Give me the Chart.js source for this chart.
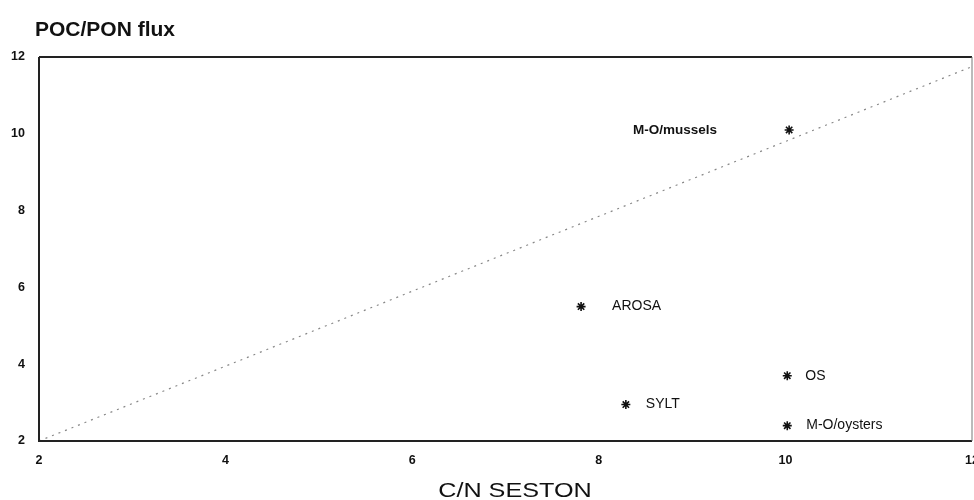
<!DOCTYPE html>
<html>
<head>
<meta charset="utf-8">
<script src="https://cdn.jsdelivr.net/npm/chart.js@4"></script>
<style>
  html, body { margin: 0; padding: 0; background: #fff; }
  #wrap { width: 974px; height: 500px; }
</style>
</head>
<body>
<div id="wrap"><canvas id="chart" width="974" height="500"></canvas></div>
<script>
// sites and their values
const sites = ['M-O/mussels', 'AROSA', 'OS', 'SYLT', 'M-O/oysters'];
const cnSeston = [10.04, 7.81, 10.02, 8.29, 10.02];
const pocPonFlux = [10.1, 5.5, 3.7, 2.95, 2.4];

// 1:1-ish reference line
const refLineX = [2, 12];
const refLineY = [2, 11.75];

const xTicks = [2, 4, 6, 8, 10, 12];
const yTicks = [2, 4, 6, 8, 10, 12];

const FONT = "'Liberation Sans', Arial, sans-serif";

// label placement per site: which side of the star, and bold or not
const labelStyle = {
    'M-O/mussels': { side: 'left', gap: 72, bold: true, size: 13.5 },
    'AROSA': { side: 'right', gap: 31, bold: false, size: 14 },
    'OS': { side: 'right', gap: 18, bold: false, size: 14 },
    'SYLT': { side: 'right', gap: 20, bold: false, size: 14 },
    'M-O/oysters': { side: 'right', gap: 19, bold: false, size: 14 }
};

const textPlugin = {
    id: 'textPlugin',
    afterDraw(chart) {
        const { ctx, chartArea, scales } = chart;
        ctx.save();

        // frame
        ctx.strokeStyle = '#222';
        ctx.lineWidth = 2;
        ctx.beginPath();
        ctx.moveTo(chartArea.left, chartArea.top);
        ctx.lineTo(chartArea.right, chartArea.top);
        ctx.stroke();
        ctx.beginPath();
        ctx.moveTo(chartArea.left, chartArea.top);
        ctx.lineTo(chartArea.left, chartArea.bottom);
        ctx.lineTo(chartArea.right, chartArea.bottom);
        ctx.stroke();
        ctx.strokeStyle = '#777';
        ctx.lineWidth = 1;
        ctx.beginPath();
        ctx.moveTo(chartArea.right, chartArea.top);
        ctx.lineTo(chartArea.right, chartArea.bottom);
        ctx.stroke();

        // titles
        ctx.fillStyle = '#111';
        ctx.textBaseline = 'alphabetic';
        ctx.textAlign = 'left';
        ctx.font = `bold 21px ${FONT}`;
        ctx.fillText('POC/PON flux', 35, 36);

        ctx.textAlign = 'center';
        ctx.font = `21px ${FONT}`;
        ctx.save();
        ctx.translate(515, 497);
        ctx.scale(1.2, 1);
        ctx.fillText('C/N SESTON', 0, 0);
        ctx.restore();

        // site labels
        ctx.textBaseline = 'middle';
        sites.forEach((name, i) => {
            const st = labelStyle[name];
            const px = scales.x.getPixelForValue(cnSeston[i]);
            const py = scales.y.getPixelForValue(pocPonFlux[i]);
            ctx.font = `${st.bold ? 'bold ' : ''}${st.size}px ${FONT}`;
            if (st.side === 'left') {
                ctx.textAlign = 'right';
                ctx.fillText(name, px - st.gap, py);
            } else {
                ctx.textAlign = 'left';
                ctx.fillText(name, px + st.gap, py);
            }
        });
        ctx.restore();
    }
};

new Chart(document.getElementById('chart').getContext('2d'), {
    type: 'scatter',
    data: {
        datasets: [
            {
                label: 'reference',
                type: 'line',
                data: refLineX.map((x, i) => ({ x: x, y: refLineY[i] })),
                borderColor: '#888',
                borderWidth: 1.2,
                borderDash: [2, 5],
                pointRadius: 0,
                fill: false
            },
            {
                label: 'sites',
                data: sites.map((s, i) => ({ x: cnSeston[i], y: pocPonFlux[i] })),
                pointStyle: 'star',
                pointRadius: 4.5,
                borderColor: '#111',
                backgroundColor: '#111',
                borderWidth: 1.6
            }
        ]
    },
    options: {
        responsive: false,
        animation: false,
        layout: { autoPadding: false, padding: { top: 57, right: 2, left: 0, bottom: 0 } },
        plugins: {
            legend: { display: false },
            tooltip: { enabled: false }
        },
        scales: {
            x: {
                type: 'linear',
                min: 2,
                max: 12,
                afterBuildTicks: axis => { axis.ticks = xTicks.map(v => ({ value: v })); },
                afterFit: axis => {
                    axis.height = 59;
                    axis.paddingLeft = 0;
                    axis.paddingRight = 0;
                },
                grid: { display: false, drawTicks: false },
                border: { display: false },
                ticks: {
                    padding: 12,
                    color: '#111',
                    font: { family: FONT, size: 12.5, weight: 'bold' }
                }
            },
            y: {
                type: 'linear',
                min: 2,
                max: 12,
                afterBuildTicks: axis => { axis.ticks = yTicks.map(v => ({ value: v })); },
                afterFit: axis => {
                    axis.width = 39;
                    axis.paddingTop = 0;
                    axis.paddingBottom = 0;
                },
                grid: { display: false, drawTicks: false },
                border: { display: false },
                ticks: {
                    padding: 14,
                    color: '#111',
                    font: { family: FONT, size: 12.5, weight: 'bold' }
                }
            }
        }
    },
    plugins: [textPlugin]
});
</script>
</body>
</html>
